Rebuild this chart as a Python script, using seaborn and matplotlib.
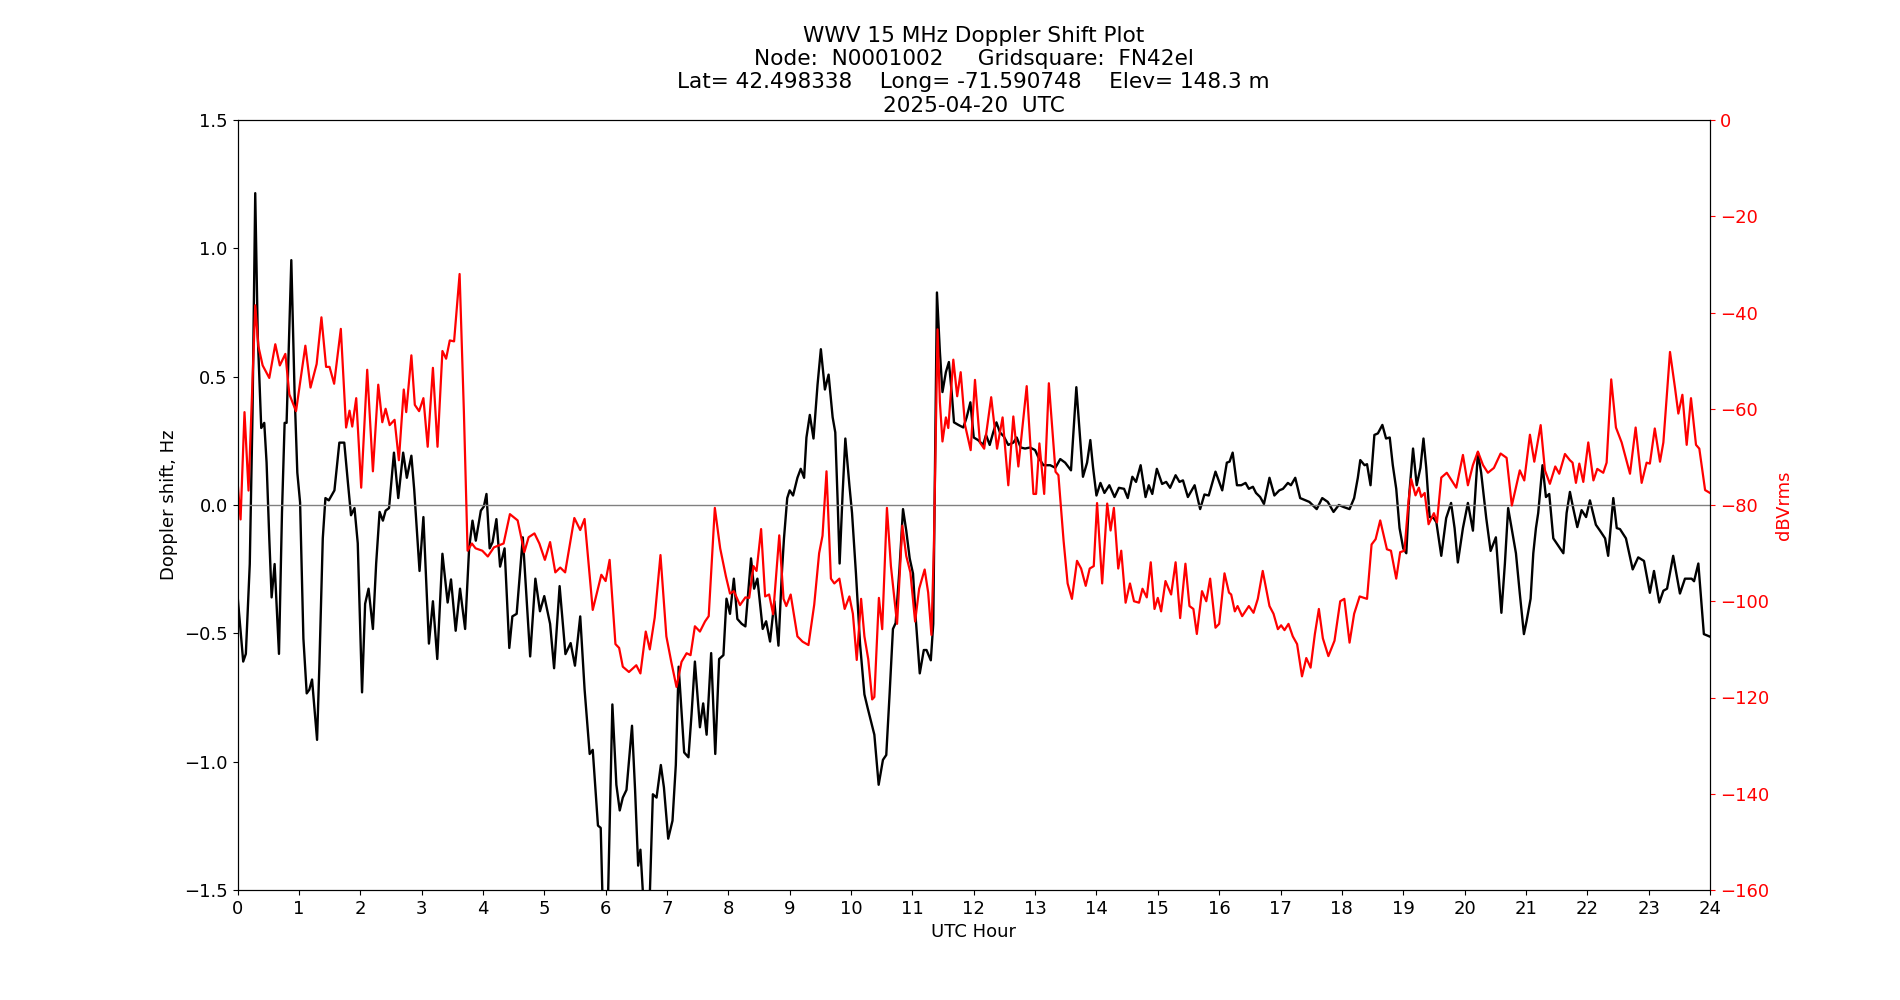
import pandas as pd
import matplotlib
matplotlib.use("Agg")
import matplotlib.pyplot as plt
import seaborn as sns

# ========== DATA ==========
doppler_hours = [
    0.0, 0.093, 0.136, 0.2, 0.245, 0.289, 0.33, 0.387, 0.436, 0.474, 0.518, 0.556, 0.605, 0.676,
    0.725, 0.768, 0.8, 0.877, 0.93, 0.975, 1.02, 1.074, 1.128, 1.17, 1.215, 1.25, 1.297, 1.335,
    1.39, 1.433, 1.488, 1.58, 1.66, 1.74, 1.8, 1.85, 1.907, 1.96, 2.03, 2.08, 2.136, 2.207,
    2.26, 2.316, 2.37, 2.414, 2.47, 2.55, 2.62, 2.7, 2.76, 2.834, 2.88, 2.967, 3.03, 3.12,
    3.185, 3.256, 3.34, 3.425, 3.48, 3.556, 3.627, 3.71, 3.775, 3.83, 3.884, 3.966, 4.015, 4.058,
    4.11, 4.157, 4.22, 4.28, 4.353, 4.43, 4.48, 4.55, 4.65, 4.77, 4.855, 4.93, 5.0, 5.095,
    5.16, 5.25, 5.345, 5.43, 5.5, 5.586, 5.657, 5.74, 5.79, 5.875, 5.92, 5.967, 6.04, 6.11,
    6.175, 6.23, 6.28, 6.34, 6.43, 6.48, 6.53, 6.567, 6.61, 6.66, 6.72, 6.77, 6.83, 6.9,
    6.95, 7.02, 7.09, 7.144, 7.19, 7.28, 7.35, 7.4, 7.455, 7.537, 7.59, 7.646, 7.72, 7.787,
    7.85, 7.92, 7.97, 8.027, 8.09, 8.147, 8.218, 8.278, 8.37, 8.42, 8.474, 8.56, 8.616, 8.68,
    8.75, 8.817, 8.872, 8.907, 8.96, 9.0, 9.055, 9.126, 9.18, 9.235, 9.273, 9.328, 9.388, 9.454,
    9.508, 9.574, 9.634, 9.7, 9.743, 9.78, 9.814, 9.863, 9.907, 9.973, 10.016, 10.08, 10.147, 10.218,
    10.273, 10.38, 10.45, 10.52, 10.574, 10.628, 10.683, 10.727, 10.79, 10.847, 10.9, 10.956, 11.01, 11.055,
    11.12, 11.186, 11.23, 11.3, 11.34, 11.4, 11.448, 11.49, 11.546, 11.595, 11.64, 11.678, 11.75, 11.83,
    11.885, 11.945, 12.0, 12.07, 12.153, 12.2, 12.26, 12.317, 12.37, 12.426, 12.49, 12.563, 12.645, 12.7,
    12.765, 12.836, 12.918, 13.0, 13.055, 13.136, 13.246, 13.33, 13.41, 13.49, 13.585, 13.672, 13.727, 13.78,
    13.847, 13.9, 13.945, 14.0, 14.065, 14.13, 14.21, 14.295, 14.366, 14.45, 14.51, 14.585, 14.645, 14.72,
    14.8, 14.853, 14.91, 14.984, 15.07, 15.136, 15.2, 15.29, 15.353, 15.41, 15.49, 15.6, 15.69, 15.76,
    15.83, 15.94, 16.05, 16.125, 16.17, 16.22, 16.29, 16.36, 16.43, 16.484, 16.55, 16.6, 16.668, 16.73,
    16.82, 16.9, 16.98, 17.04, 17.12, 17.17, 17.24, 17.32, 17.47, 17.53, 17.59, 17.68, 17.77, 17.864,
    17.95, 18.03, 18.125, 18.2, 18.26, 18.3, 18.37, 18.41, 18.467, 18.53, 18.587, 18.66, 18.72, 18.78,
    18.83, 18.886, 18.94, 19.0, 19.05, 19.1, 19.16, 19.22, 19.28, 19.33, 19.375, 19.43, 19.495, 19.54,
    19.62, 19.7, 19.78, 19.837, 19.89, 19.973, 20.054, 20.136, 20.217, 20.27, 20.353, 20.424, 20.51, 20.6,
    20.657, 20.71, 20.766, 20.837, 20.9, 20.967, 21.01, 21.076, 21.12, 21.163, 21.2, 21.27, 21.326, 21.38,
    21.446, 21.527, 21.61, 21.663, 21.717, 21.77, 21.837, 21.907, 21.98, 22.043, 22.14, 22.207, 22.29, 22.34,
    22.424, 22.48, 22.533, 22.63, 22.74, 22.83, 22.924, 23.02, 23.087, 23.174, 23.24, 23.3, 23.4, 23.51,
    23.592, 23.7, 23.74, 23.81, 23.9, 24.0,
]
doppler_hz = [
    -0.35, -0.61, -0.58, -0.23, 0.36, 1.215, 0.66, 0.30, 0.32, 0.165, -0.13, -0.36, -0.23, -0.58,
    -0.03, 0.32, 0.32, 0.954, 0.44, 0.126, 0.01, -0.52, -0.734, -0.72, -0.68, -0.78, -0.915, -0.62,
    -0.13, 0.027, 0.018, 0.057, 0.243, 0.243, 0.086, -0.04, -0.012, -0.149, -0.73, -0.385, -0.326, -0.483,
    -0.228, -0.027, -0.061, -0.022, -0.012, 0.204, 0.027, 0.204, 0.106, 0.192, 0.06, -0.257, -0.047, -0.54,
    -0.375, -0.60, -0.19, -0.38, -0.29, -0.49, -0.326, -0.483, -0.169, -0.061, -0.139, -0.022, -0.006, 0.043,
    -0.169, -0.145, -0.055, -0.24, -0.169, -0.557, -0.434, -0.424, -0.126, -0.59, -0.287, -0.414, -0.355, -0.463,
    -0.636, -0.316, -0.581, -0.538, -0.626, -0.434, -0.718, -0.97, -0.954, -1.249, -1.258, -1.7, -1.52, -0.777,
    -1.09, -1.19, -1.14, -1.11, -0.86, -1.11, -1.405, -1.343, -1.52, -1.7, -1.52, -1.127, -1.14, -1.013,
    -1.1, -1.30, -1.23, -1.013, -0.63, -0.964, -0.983, -0.817, -0.61, -0.866, -0.773, -0.895, -0.577, -0.97,
    -0.60, -0.585, -0.365, -0.424, -0.287, -0.444, -0.463, -0.473, -0.208, -0.326, -0.287, -0.483, -0.453, -0.532,
    -0.375, -0.548, -0.267, -0.13, 0.027, 0.057, 0.037, 0.106, 0.141, 0.106, 0.263, 0.351, 0.259, 0.469,
    0.607, 0.45, 0.508, 0.342, 0.283, 0.027, -0.228, 0.047, 0.259, 0.077, -0.031, -0.267, -0.542, -0.738,
    -0.793, -0.895, -1.09, -0.993, -0.974, -0.738, -0.483, -0.46, -0.247, -0.016, -0.1, -0.208, -0.267, -0.444,
    -0.656, -0.565, -0.565, -0.605, -0.463, 0.828, 0.597, 0.44, 0.518, 0.557, 0.44, 0.322, 0.312, 0.302,
    0.342, 0.4, 0.263, 0.253, 0.234, 0.273, 0.234, 0.283, 0.322, 0.283, 0.267, 0.234, 0.243, 0.263,
    0.224, 0.22, 0.224, 0.214, 0.185, 0.155, 0.155, 0.145, 0.179, 0.165, 0.135, 0.459, 0.283, 0.11,
    0.165, 0.253, 0.145, 0.037, 0.086, 0.047, 0.077, 0.031, 0.067, 0.063, 0.027, 0.11, 0.09, 0.155,
    0.031, 0.077, 0.043, 0.141, 0.082, 0.09, 0.067, 0.116, 0.09, 0.096, 0.031, 0.077, -0.016, 0.041,
    0.037, 0.13, 0.057, 0.165, 0.169, 0.204, 0.077, 0.077, 0.086, 0.063, 0.071, 0.047, 0.031, 0.004,
    0.106, 0.037, 0.057, 0.063, 0.086, 0.077, 0.106, 0.027, 0.012, -0.002, -0.016, 0.027, 0.012, -0.027,
    0.0, -0.008, -0.016, 0.027, 0.106, 0.175, 0.155, 0.159, 0.077, 0.273, 0.279, 0.312, 0.259, 0.263,
    0.155, 0.063, -0.09, -0.169, -0.188, 0.047, 0.22, 0.077, 0.145, 0.259, 0.145, -0.047, -0.051, -0.067,
    -0.198, -0.051, 0.008, -0.09, -0.224, -0.09, 0.008, -0.1, 0.204, 0.126, -0.051, -0.179, -0.126, -0.42,
    -0.228, -0.012, -0.09, -0.188, -0.345, -0.503, -0.453, -0.365, -0.188, -0.09, -0.031, 0.155, 0.031, 0.043,
    -0.13, -0.159, -0.188, -0.031, 0.051, -0.012, -0.086, -0.02, -0.047, 0.018, -0.077, -0.1, -0.13, -0.198,
    0.027, -0.09, -0.094, -0.13, -0.251, -0.204, -0.218, -0.342, -0.257, -0.38, -0.334, -0.326, -0.198, -0.345,
    -0.287, -0.287, -0.297, -0.228, -0.503, -0.513,
]

power_hours = [
    0.0, 0.05, 0.114, 0.18, 0.289, 0.34, 0.41, 0.518, 0.616, 0.69, 0.78, 0.845, 0.954, 1.106,
    1.19, 1.29, 1.368, 1.444, 1.5, 1.575, 1.684, 1.77, 1.826, 1.87, 1.935, 2.016, 2.114, 2.207,
    2.294, 2.36, 2.414, 2.48, 2.56, 2.63, 2.71, 2.75, 2.834, 2.89, 2.96, 3.03, 3.1, 3.185,
    3.26, 3.34, 3.40, 3.46, 3.53, 3.62, 3.69, 3.75, 3.82, 3.88, 3.99, 4.08, 4.18, 4.337,
    4.44, 4.566, 4.675, 4.745, 4.84, 4.92, 5.01, 5.095, 5.18, 5.26, 5.34, 5.49, 5.586, 5.657,
    5.79, 5.93, 6.0, 6.065, 6.16, 6.22, 6.28, 6.38, 6.5, 6.567, 6.654, 6.72, 6.8, 6.894,
    6.99, 7.07, 7.155, 7.237, 7.32, 7.384, 7.455, 7.537, 7.62, 7.68, 7.78, 7.867, 7.96, 8.027,
    8.09, 8.19, 8.278, 8.34, 8.41, 8.46, 8.534, 8.6, 8.665, 8.73, 8.83, 8.9, 8.945, 9.016,
    9.126, 9.21, 9.306, 9.4, 9.48, 9.535, 9.6, 9.672, 9.727, 9.81, 9.896, 9.973, 10.03, 10.093,
    10.164, 10.218, 10.28, 10.344, 10.38, 10.454, 10.508, 10.585, 10.65, 10.75, 10.836, 10.9, 10.967, 11.044,
    11.11, 11.2, 11.257, 11.31, 11.35, 11.41, 11.448, 11.49, 11.546, 11.585, 11.667, 11.73, 11.787, 11.858,
    11.95, 12.02, 12.1, 12.17, 12.284, 12.38, 12.47, 12.563, 12.645, 12.727, 12.863, 12.973, 13.016, 13.07,
    13.148, 13.224, 13.333, 13.38, 13.464, 13.53, 13.6, 13.683, 13.75, 13.825, 13.89, 13.956, 14.01, 14.093,
    14.175, 14.23, 14.284, 14.355, 14.404, 14.475, 14.546, 14.612, 14.694, 14.75, 14.82, 14.885, 14.946, 15.0,
    15.054, 15.125, 15.217, 15.29, 15.364, 15.45, 15.516, 15.58, 15.636, 15.72, 15.79, 15.853, 15.94, 16.0,
    16.087, 16.16, 16.196, 16.255, 16.3, 16.375, 16.484, 16.56, 16.63, 16.71, 16.82, 16.886, 16.957, 17.01,
    17.065, 17.13, 17.2, 17.27, 17.35, 17.42, 17.49, 17.56, 17.625, 17.69, 17.78, 17.88, 17.973, 18.04,
    18.125, 18.2, 18.29, 18.41, 18.484, 18.55, 18.625, 18.734, 18.8, 18.886, 18.95, 19.02, 19.087, 19.13,
    19.2, 19.255, 19.293, 19.35, 19.413, 19.5, 19.55, 19.62, 19.71, 19.864, 19.973, 20.054, 20.136, 20.217,
    20.3, 20.38, 20.478, 20.587, 20.685, 20.77, 20.9, 20.973, 21.065, 21.136, 21.24, 21.31, 21.39, 21.478,
    21.543, 21.636, 21.717, 21.76, 21.815, 21.87, 21.935, 22.016, 22.1, 22.163, 22.26, 22.315, 22.39, 22.467,
    22.56, 22.696, 22.788, 22.886, 22.967, 23.02, 23.1, 23.185, 23.24, 23.348, 23.43, 23.484, 23.55, 23.62,
    23.69, 23.772, 23.826, 23.92, 24.0,
]
power_db = [
    -75.0, -83.0, -60.7, -77.0, -38.5, -47.0, -51.0, -53.6, -46.6, -51.0, -48.6, -57.0, -60.5, -46.9,
    -55.6, -50.7, -41.0, -51.3, -51.3, -54.8, -43.4, -63.9, -60.4, -63.7, -57.8, -76.4, -51.9, -73.0,
    -55.0, -62.8, -60.0, -63.4, -62.3, -70.7, -56.0, -60.7, -48.9, -59.2, -60.5, -57.8, -67.9, -51.5,
    -67.9, -48.0, -49.6, -45.8, -46.0, -32.0, -60.7, -89.5, -88.0, -89.0, -89.5, -90.7, -88.8, -88.0,
    -81.9, -83.2, -89.8, -86.7, -85.9, -88.0, -91.4, -87.7, -94.0, -93.0, -94.0, -82.7, -85.2, -82.9,
    -101.8, -94.5, -95.8, -91.4, -108.9, -109.7, -113.6, -114.7, -113.3, -115.0, -106.3, -110.0, -103.4, -90.4,
    -107.3, -112.6, -117.8, -112.6, -110.8, -111.2, -105.2, -106.3, -104.2, -103.1, -80.6, -89.0, -94.8, -98.4,
    -97.9, -100.8, -99.2, -99.3, -92.7, -93.7, -85.0, -99.0, -98.6, -102.7, -86.3, -99.5, -101.0, -98.6,
    -107.3, -108.4, -109.1, -100.7, -90.0, -86.4, -73.0, -95.3, -96.3, -95.3, -101.6, -99.0, -102.6, -112.2,
    -99.5, -107.3, -112.0, -120.4, -119.9, -99.3, -105.8, -80.6, -92.7, -104.7, -84.3, -90.6, -94.0, -104.2,
    -97.4, -93.4, -98.2, -107.0, -88.8, -43.5, -58.6, -66.8, -61.8, -64.0, -49.8, -57.4, -52.4, -63.4,
    -68.6, -54.0, -67.0, -68.3, -57.6, -68.3, -61.8, -75.9, -61.6, -72.0, -55.3, -77.7, -77.7, -67.2,
    -77.7, -54.7, -73.1, -73.8, -87.4, -96.3, -99.5, -91.6, -93.2, -96.8, -93.2, -92.7, -79.6, -96.3,
    -79.7, -85.3, -80.6, -93.2, -89.5, -100.3, -96.3, -100.0, -100.3, -97.4, -99.2, -91.9, -101.6, -99.3,
    -102.1, -95.8, -98.6, -91.9, -103.5, -92.2, -101.0, -101.6, -106.8, -97.9, -100.0, -95.3, -105.5, -104.7,
    -94.2, -98.2, -98.6, -102.1, -101.0, -103.1, -101.0, -102.4, -99.5, -93.7, -101.0, -102.6, -105.8, -105.0,
    -106.0, -104.7, -107.3, -108.9, -115.6, -111.8, -113.8, -106.8, -101.6, -107.7, -111.4, -108.2, -100.0, -99.5,
    -108.6, -102.6, -99.0, -99.5, -88.2, -87.1, -83.2, -89.2, -89.5, -95.3, -89.8, -89.5, -79.1, -74.6,
    -78.0, -76.4, -78.3, -77.5, -84.0, -81.7, -83.6, -74.3, -73.3, -76.4, -69.6, -75.9, -71.7, -68.9,
    -71.7, -73.3, -72.3, -69.3, -70.2, -80.1, -72.8, -74.9, -65.4, -71.0, -63.4, -72.8, -75.6, -72.0,
    -73.5, -69.4, -70.7, -71.2, -75.4, -71.4, -75.2, -67.0, -74.9, -72.5, -73.3, -71.2, -53.9, -63.9,
    -67.0, -73.5, -63.9, -75.4, -71.2, -71.4, -64.1, -71.0, -67.0, -48.2, -55.7, -61.0, -57.1, -67.5,
    -57.8, -67.5, -68.3, -76.9, -77.5,
]

hour_ticks = list(range(0, 25))

title = ("WWV 15 MHz Doppler Shift Plot\n"
         "Node:  N0001002     Gridsquare:  FN42el\n"
         "Lat= 42.498338    Long= -71.590748    Elev= 148.3 m\n"
         "2025-04-20  UTC")

doppler_df = pd.DataFrame({"UTC Hour": doppler_hours, "Doppler shift, Hz": doppler_hz})
power_df = pd.DataFrame({"UTC Hour": power_hours, "dBVrms": power_db})

# ========== PLOT ==========
plt.rcParams["font.size"] = 13
fig, ax = plt.subplots(figsize=(19, 10), dpi=100)

sns.lineplot(data=doppler_df, x="UTC Hour", y="Doppler shift, Hz", ax=ax,
             color="black", linewidth=1.7, estimator=None, sort=False)
ax.lines[-1].set_solid_joinstyle("round")
ax.axhline(0, color="grey", linewidth=1.0)
ax.set_xlim(0, 24)
ax.set_ylim(-1.5, 1.5)
ax.set_xticks(hour_ticks)
ax.set_xlabel("UTC Hour")
ax.set_ylabel("Doppler shift, Hz")
ax.set_title(title, fontsize=15.6)

ax2 = ax.twinx()
sns.lineplot(data=power_df, x="UTC Hour", y="dBVrms", ax=ax2,
             color="red", linewidth=1.6, estimator=None, sort=False)
ax2.lines[-1].set_solid_joinstyle("round")
ax2.set_ylim(-160, 0)
ax2.set_ylabel("dBVrms", color="red")
ax2.tick_params(axis="y", colors="red")

fig.savefig("out.png", dpi=100)
